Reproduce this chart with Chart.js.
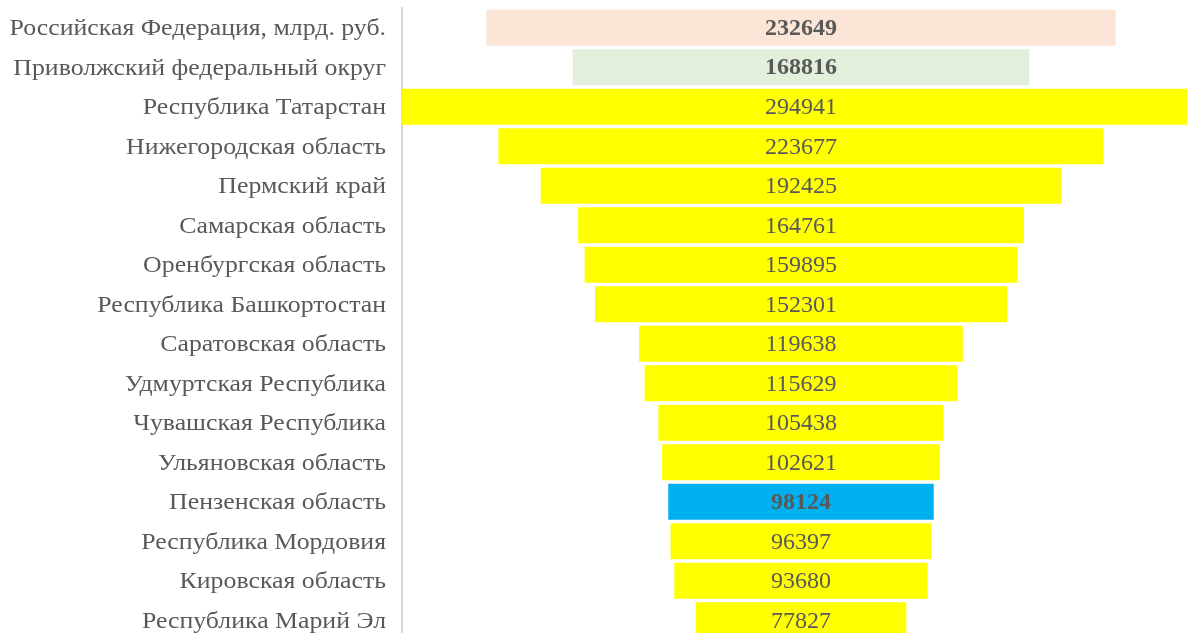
<!DOCTYPE html>
<html>
<head>
<meta charset="utf-8">
<script src="https://cdn.jsdelivr.net/npm/chart.js@4"></script>
<style>
html,body{margin:0;padding:0;background:#fff;overflow:hidden;width:1187px;height:633px;}
#wrap{position:absolute;left:0;top:0;width:1200px;height:642px;}
</style>
</head>
<body>
<div id="wrap"><canvas id="c" width="1200" height="642"></canvas></div>
<script>
const categories = [
  "Российская Федерация, млрд. руб.",
  "Приволжский федеральный округ",
  "Республика Татарстан",
  "Нижегородская область",
  "Пермский край",
  "Самарская область",
  "Оренбургская область",
  "Республика Башкортостан",
  "Саратовская область",
  "Удмуртская Республика",
  "Чувашская Республика",
  "Ульяновская область",
  "Пензенская область",
  "Республика Мордовия",
  "Кировская область",
  "Республика Марий Эл"
];
const values = [232649, 168816, 294941, 223677, 192425, 164761, 159895, 152301, 119638, 115629, 105438, 102621, 98124, 96397, 93680, 77827];
const barColors = ["#FBE5D6", "#E2EFDA", "#FFFF00", "#FFFF00", "#FFFF00", "#FFFF00", "#FFFF00", "#FFFF00", "#FFFF00", "#FFFF00", "#FFFF00", "#FFFF00", "#00B0F0", "#FFFF00", "#FFFF00", "#FFFF00"];
const boldLabels = [true, true, false, false, false, false, false, false, false, false, false, false, true, false, false, false];

const maxVal = Math.max(...values);
const FONT = "'Liberation Serif', 'Times New Roman', serif";

const textPlugin = {
  id: 'textPlugin',
  afterDatasetsDraw(chart) {
    const ctx = chart.ctx;
    const meta = chart.getDatasetMeta(0);
    const xs = chart.scales.x;
    const ys = chart.scales.y;
    const cx = xs.getPixelForValue(0);
    ctx.save();
    ctx.fillStyle = '#595959';
    ctx.textBaseline = 'middle';
    // value labels
    ctx.textAlign = 'center';
    meta.data.forEach((el, i) => {
      ctx.font = (boldLabels[i] ? 'bold ' : '') + '24px ' + FONT;
      ctx.fillText(String(values[i]), cx, el.y + 1);
    });
    // category labels (slightly widened serif, as in the source)
    ctx.textAlign = 'right';
    ctx.font = '24px ' + FONT;
    categories.forEach((lab, i) => {
      const y = ys.getPixelForTick(i);
      ctx.save();
      ctx.translate(386, y + 1);
      ctx.scale(1.075, 1);
      ctx.fillText(lab, 0, 0);
      ctx.restore();
    });
    ctx.restore();
  }
};

new Chart(document.getElementById('c'), {
  type: 'bar',
  data: {
    labels: categories,
    datasets: [{
      data: values.map(v => [-v / 2, v / 2]),
      backgroundColor: barColors,
      borderWidth: 0,
      barPercentage: 0.91,
      categoryPercentage: 1.0
    }]
  },
  options: {
    indexAxis: 'y',
    responsive: false,
    animation: false,
    layout: { padding: { top: 8, bottom: 2, left: 0, right: 0 } },
    plugins: { legend: { display: false }, tooltip: { enabled: false } },
    scales: {
      x: {
        display: false,
        min: -maxVal / 2,
        max: maxVal / 2
      },
      y: {
        afterFit(scale) { scale.width = 402; scale.paddingTop = 0; scale.paddingBottom = 0; },
        grid: { display: false, drawTicks: false },
        border: { display: true, color: '#D9D9D9', width: 2 },
        ticks: { display: false }
      }
    }
  },
  plugins: [textPlugin]
});
</script>
</body>
</html>
